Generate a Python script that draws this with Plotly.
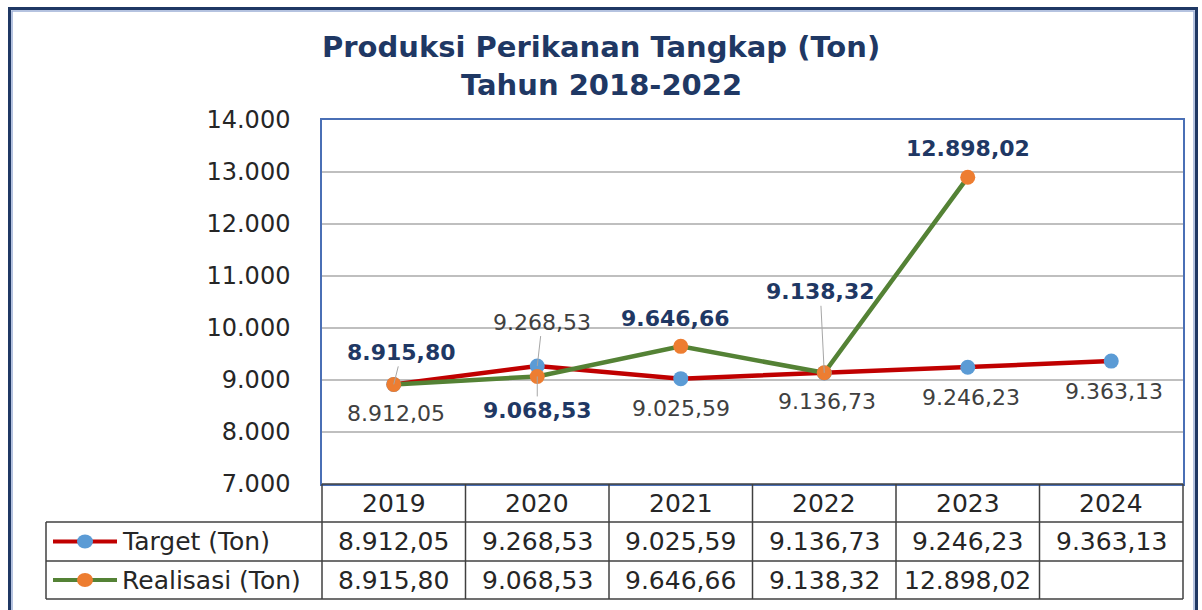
import plotly.graph_objects as go

# ---------------- data ----------------
years = ["2019", "2020", "2021", "2022", "2023", "2024"]
target = [8912.05, 9268.53, 9025.59, 9136.73, 9246.23, 9363.13]
realisasi = [8915.80, 9068.53, 9646.66, 9138.32, 12898.02, None]
series_names = ["Target (Ton)", "Realisasi (Ton)"]
y_ticks = [7000, 8000, 9000, 10000, 11000, 12000, 13000, 14000]
title_lines = ["Produksi Perikanan Tangkap (Ton)", "Tahun 2018-2022"]

# ---------------- geometry ----------------
W, H = 1202, 610
L, R, T, B = 322, 1183, 120, 484


def px(x):
    return (x - L) / (R - L)


def py(y):
    return (B - y) / (B - T)


def fmt(v):
    s = f"{v:,.2f}"
    return s.replace(",", "X").replace(".", ",").replace("X", ".")


RED = "#C00000"
BLUE = "#5B9BD5"
GREEN = "#548235"
ORANGE = "#ED7D31"
NAVY = "#1F3864"
GRAYTXT = "#404040"

fig = go.Figure()
xs = list(range(len(years)))
fig.add_trace(go.Scatter(
    x=xs, y=target, mode="lines+markers", name=series_names[0],
    line=dict(color=RED, width=4.5),
    marker=dict(color=BLUE, size=15), hoverinfo="skip"))
fig.add_trace(go.Scatter(
    x=xs, y=realisasi, mode="lines+markers", name=series_names[1],
    line=dict(color=GREEN, width=4.5),
    marker=dict(color=ORANGE, size=15), hoverinfo="skip"))

annotations = []
shapes = []

# title
for i, line in enumerate(title_lines):
    annotations.append(dict(
        xref="paper", yref="paper", x=px(601), y=py(47 + 38 * i),
        text=f"<b>{line}</b>", showarrow=False, xanchor="center", yanchor="middle",
        font=dict(family="DejaVu Sans", size=29, color=NAVY)))

# data labels: (index, xshift, yshift, leader)
real_pos = [(0, 8, 32, True), (1, 0, -34, True), (2, -5, 28, False),
            (3, -4, 81, True), (4, 0, 29, False)]
targ_pos = [(0, 2, -29, False), (1, 5, 44, True), (2, 0, -30, False),
            (3, 3, -29, False), (4, 3, -30, False), (5, 3, -30, False)]

lab_font_b = dict(family="DejaVu Sans", size=22, color=NAVY)
lab_font_r = dict(family="DejaVu Sans", size=22, color=GRAYTXT)

for series, pos, font, bold in ((realisasi, real_pos, lab_font_b, True),
                                (target, targ_pos, lab_font_r, False)):
    for i, dx, dy, leader in pos:
        v = series[i]
        txt = fmt(v)
        if bold:
            txt = f"<b>{txt}</b>"
        if leader:
            annotations.append(dict(
                x=i, y=v, xref="x", yref="y", text=txt, showarrow=True,
                ax=dx, ay=-dy, arrowhead=0, arrowwidth=1, arrowcolor="#A6A6A6",
                standoff=0, font=font, xanchor="center", yanchor="middle"))
        else:
            annotations.append(dict(
                x=i, y=v, xref="x", yref="y", text=txt, showarrow=False,
                xshift=dx, yshift=dy, font=font, xanchor="center", yanchor="middle"))

# ---------------- data table ----------------
tbl_line = dict(color="#404040", width=1.5)
col_edges = [L + (R - L) * k / len(years) for k in range(len(years) + 1)]
row_y = [484, 522, 561, 599]
TL = 46

shapes.append(dict(type="line", xref="paper", yref="paper",
                   x0=px(L), x1=px(R), y0=py(row_y[0]), y1=py(row_y[0]), line=tbl_line))
for yy in row_y[1:]:
    shapes.append(dict(type="line", xref="paper", yref="paper",
                       x0=px(TL), x1=px(R), y0=py(yy), y1=py(yy), line=tbl_line))
for xx in col_edges:
    shapes.append(dict(type="line", xref="paper", yref="paper",
                       x0=px(xx), x1=px(xx), y0=py(row_y[0]), y1=py(row_y[3]), line=tbl_line))
shapes.append(dict(type="line", xref="paper", yref="paper",
                   x0=px(TL), x1=px(TL), y0=py(row_y[1]), y1=py(row_y[3]), line=tbl_line))

tfont = dict(family="DejaVu Sans", size=25, color="#262626")
row_centers = [(row_y[k] + row_y[k + 1]) / 2 for k in range(3)]
for k, yr in enumerate(years):
    cx = (col_edges[k] + col_edges[k + 1]) / 2
    annotations.append(dict(xref="paper", yref="paper", x=px(cx), y=py(row_centers[0]),
                            text=yr, showarrow=False, font=tfont,
                            xanchor="center", yanchor="middle"))
    for r, series in enumerate((target, realisasi)):
        v = series[k]
        if v is None:
            continue
        annotations.append(dict(xref="paper", yref="paper", x=px(cx), y=py(row_centers[r + 1]),
                                text=fmt(v), showarrow=False, font=tfont,
                                xanchor="center", yanchor="middle"))

for r, (lc, mc) in enumerate(((RED, BLUE), (GREEN, ORANGE))):
    cy = row_centers[r + 1]
    shapes.append(dict(type="line", xref="paper", yref="paper",
                       x0=px(53), x1=px(117), y0=py(cy), y1=py(cy),
                       line=dict(color=lc, width=4)))
    shapes.append(dict(type="circle", xref="paper", yref="paper",
                       x0=px(77), x1=px(93), y0=py(cy - 7), y1=py(cy + 7),
                       fillcolor=mc, line=dict(width=0)))
    annotations.append(dict(xref="paper", yref="paper", x=px(120), y=py(cy),
                            text=series_names[r], showarrow=False, xanchor="left",
                            yanchor="middle", font=tfont))

# outer frame
shapes.append(dict(type="rect", xref="paper", yref="paper",
                   x0=px(9.5), x1=px(1196.5), y0=py(8.5), y1=py(615),
                   line=dict(color=NAVY, width=3)))
shapes.append(dict(type="rect", xref="paper", yref="paper",
                   x0=px(12), x1=px(1194), y0=py(11), y1=py(615),
                   line=dict(color="#9DB0D6", width=1.5)))

fig.update_layout(
    width=W, height=H, autosize=False,
    margin=dict(l=L, r=W - R, t=T, b=H - B, pad=0),
    paper_bgcolor="white", plot_bgcolor="white",
    showlegend=False, separators=",.",
    xaxis=dict(range=[-0.5, len(years) - 0.5], showticklabels=False, showgrid=False,
               zeroline=False, showline=True, mirror=True, linecolor="#4A6FB5", linewidth=1.5,
               ticks=""),
    yaxis=dict(range=[7000, 14000], tickvals=y_ticks, tickformat=",d",
               showgrid=True, gridcolor="#BFBFBF", gridwidth=1.5, zeroline=False,
               showline=True, mirror=True, linecolor="#4A6FB5", linewidth=1.5,
               ticks="", ticklabelstandoff=25,
               tickfont=dict(family="DejaVu Sans", size=24, color="#262626")),
    annotations=annotations, shapes=shapes,
)

fig.write_html("out.html", config={"displayModeBar": False},
               post_script="document.body.style.margin='0';")
